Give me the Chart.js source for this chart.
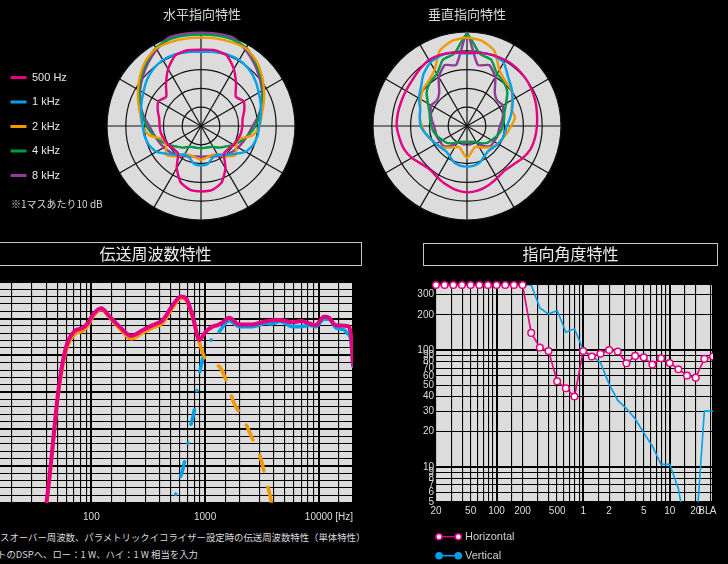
<!DOCTYPE html>
<html lang="ja"><head><meta charset="utf-8"><title>指向特性・伝送周波数特性</title>
<script src="https://cdn.jsdelivr.net/npm/chart.js"></script>
<style>
html,body{margin:0;padding:0;background:#000;}
body{width:728px;height:564px;overflow:hidden;position:relative;}
.pane{position:absolute;}
.note{position:absolute;margin:0;color:#d8d8d8;font-family:"Noto Sans CJK JP",sans-serif;white-space:nowrap;}
</style></head><body>
<div class="pane" style="left:-3px;top:0;width:330px;height:221px"><canvas id="polarH"></canvas></div>
<div class="pane" style="left:372px;top:0;width:190px;height:221px"><canvas id="polarV"></canvas></div>
<div class="pane" style="left:-51px;top:242px;width:413px;height:281px"><canvas id="resp"></canvas></div>
<div class="pane" style="left:415px;top:243px;width:311px;height:321px"><canvas id="angle"></canvas></div>
<p class="note" style="left:11px;top:198px;font-size:10px;line-height:12px">※1マスあたり10 dB</p>
<p class="note" style="left:0;top:531px;font-size:9.4px;line-height:12px">スオーバー周波数、パラメトリックイコライザー設定時の伝送周波数特性（単体特性）</p>
<p class="note" style="left:-3px;top:548px;font-size:9.4px;line-height:12px">トのDSPへ、ロー：1 W、ハイ：1 W 相当を入力</p>
<script>
// ---------- polar (directivity) data: dB, 0° = front, clockwise, 10° steps ----------
const polarAngles = [0,10,20,30,40,50,60,70,80,90,100,110,120,130,140,150,160,170,180,190,200,210,220,230,240,250,260,270,280,290,300,310,320,330,340,350];
const seriesNames = ['500 Hz','1 kHz','2 kHz','4 kHz','8 kHz'];

const hor500 = [-9.4,-9.0,-10,-15,-21,-25.8,-23.8,-25.5,-27.5,-28,-28.4,-29.2,-30,-31,-31,-24,-18,-15.5,-15.2,-15.6,-18.2,-24.2,-31,-31,-30,-29.2,-28.3,-28,-27.4,-25.5,-23.8,-25.8,-21,-15,-10,-9.1];
const hor1k  = [-10.6,-10,-9.4,-9.5,-10.5,-12.3,-14.5,-16.2,-17.8,-19,-19.5,-20.5,-22.6,-26.9,-29.8,-32.5,-32,-29.5,-29,-29.5,-32,-32.5,-29.8,-26.9,-22.6,-20.5,-19.5,-19,-17.8,-16.2,-14.5,-12.3,-10.5,-9.5,-9.4,-10];
const hor2k  = [-3,-2.8,-2.5,-2.3,-4.5,-7.8,-11.3,-14.5,-17.3,-18.8,-22,-29,-28.5,-26,-29,-32.5,-33.5,-33,-32,-33,-33.5,-32.5,-29,-26,-28.5,-29,-22,-18.8,-17.3,-14.5,-11.3,-7.8,-4.5,-2.3,-2.5,-2.8];
const hor4k  = [-1.4,-1.2,-1,-2,-5.2,-8.5,-12,-15.5,-18.5,-21,-24,-27,-30,-33,-35,-37.2,-38,-38.2,-38.2,-38.2,-38,-37.2,-35,-33,-30,-27,-24,-21,-18.5,-15.5,-12,-8.5,-5.2,-2,-1,-1.2];
const hor8k  = [-0.4,-0.2,0,-3,-6.2,-9.5,-12.5,-15.5,-19,-22.5,-24.5,-26,-27.2,-28.5,-30,-31.5,-32.8,-33.5,-33.7,-33.5,-32.8,-31.5,-30,-28.5,-27.2,-26,-24.5,-22.5,-19,-15.5,-12.5,-9.5,-6.2,-3,0,-0.2];

const ver500 = [-11.1,-10.5,-9.9,-9.5,-9.4,-9.8,-10.5,-11.3,-12.2,-12.8,-13.3,-14,-15.8,-18,-19,-18,-16.5,-15.2,-14.7,-15.5,-17,-18.5,-19.5,-18.5,-16,-14.3,-13.5,-12.6,-12.6,-12.7,-12.5,-12,-10.8,-9.5,-9.6,-10.3];
const ver1k  = [-11.5,-10.5,-9.9,-11,-16,-19,-22,-24.5,-26.8,-28.8,-29.5,-30,-31,-32,-32.5,-31.5,-29.5,-28.6,-28.4,-28.6,-29.5,-31.5,-32.5,-32,-31,-29.5,-27.5,-25.3,-24.5,-23.5,-20.5,-18,-14,-11,-10,-10.5];
const ver2k  = [-3,-4,-7.5,-15.5,-18.5,-19.5,-22,-24.7,-24,-26.5,-28.4,-30,-31,-32.5,-35,-37,-38,-36,-33,-36,-38,-37,-35,-32.5,-31,-29.5,-27.5,-26,-24.5,-23.5,-21.5,-19.5,-18.5,-15.5,-7.5,-4];
const ver4k  = [-1,-11,-12.5,-18,-19.5,-22,-26,-28.8,-30,-31,-32,-33.5,-35,-36,-38,-40,-41,-41.5,-41.5,-41.5,-41,-40,-38,-36,-35,-33.5,-32,-31,-30,-28.8,-26,-22,-19.5,-18,-12.5,-11];
const ver8k  = [-0.4,-17,-15.5,-20,-27,-29,-28,-29.5,-31,-32.5,-33,-33,-33.5,-33.5,-36,-39.5,-41,-40,-41.7,-40,-41,-39.5,-36,-33.5,-33.5,-33,-33,-32.5,-31,-29.5,-28,-29,-27,-20,-15.5,-17];

// ---------- frequency response data (Hz, dB) ----------
const freqTotal = [39.5,43,46,51,56,62,71,84,93,103,122,145,177,224,284,347,425,520,613,680,780,890,1010,1160,1290,1430,1630,2000,2600,3440,4550,5870,6940,8200,9400,11100,12300,14100,17800,19200,20000];
const dbTotal   = [38,47.5,56.6,70,78.3,83.7,86.6,87.5,88.7,91,92.8,90.5,87.8,85.3,86.9,88.2,89.6,93.7,96,95.5,90.5,84.2,86.4,87.8,88.2,89,90.2,88.4,88.4,89.3,89.6,89,89.3,88.7,88.2,90.5,90.2,88.2,88,85.5,77.5];
const freqLow   = [39.5,43,46,51,56,62,71,84,93,103,122,145,177,224,284,347,425,520,613,680,780,890,1030,1330,1560,1800,2160,2640,3020,3380,3700,4000];
const dbLow     = [37.5,47,56,69,77.3,82.8,85.7,86.6,88,90.5,92.5,90.2,87.3,84.5,86.2,87.5,88.8,93,95.5,95,90,83.5,78.5,77,72.6,67,62.9,57,53,47.2,42.3,37];
const freqHigh  = [520,557,627,690,740,805,850,920,1030,1330,1630,2000,2600,3440,3800,4550,5870,6940,8200,9400,11100,12300,14100,16700,17800,19200,20000];
const dbHigh    = [33,43.2,48.3,54,60.2,65.2,71,77.1,82.1,86.4,89.4,87.8,87.8,88.7,88.5,89.2,87.8,87.8,88.2,87.8,89.8,89.8,87.5,86.9,86,84,77];
const respTickLabels = [100, 1000, 10000];

// ---------- directivity angle data (degrees per 1/3-octave band) ----------
const bandLabels = ['20','25','31.5','40','50','63','80','100','125','160','200','250','315','400','500','630','800','1k','1.25k','1.6k','2k','2.5k','3.15k','4k','5k','6.3k','8k','10k','12.5k','16k','20k','BL','A'];
const bandTickText = {'20':'20','50':'50','100':'100','200':'200','500':'500','1k':'1','2k':'2','5k':'5','10k':'10','20k':'20','BL':'BL','A':'A'};
const horizontalDeg = [360,360,360,360,360,360,360,360,360,360,360,140,105,98,54,47,40,98,88,93,100,97,77,89,86.5,75,85,77.5,68.5,60.5,58,84,88];
const verticalDeg   = [360,360,360,360,360,360,360,360,360,360,360,360,229,203,218,142,152,100,89,78,51,37,31.6,25.8,19.5,15,10.5,10.5,6.5,2.5,2.5,30,30];
const angleTicks = [5,6,7,8,9,10,20,30,40,50,60,70,80,90,100,200,300];

// ---------- styling ----------
const PINK='#e4007f', BLUE='#00a0e9', ORANGE='#f39800', GREEN='#009944', PURPLE='#8f3b97';
const SERIES_COLORS = [PINK, BLUE, ORANGE, GREEN, PURPLE];
const PLOT_BG = '#dcdcdc';
Chart.defaults.font.family = '"Liberation Sans", Arial, sans-serif';
Chart.defaults.color = '#dddddd';
const JP = '"Noto Sans CJK JP", sans-serif';
const isDecade = v => Math.abs(Math.log10(v) - Math.round(Math.log10(v))) < 1e-9;

const plotBg = {
  id: 'plotBg',
  beforeDraw(chart, args, o) {
    if (!o || !o.color) return;
    const {ctx, chartArea: a} = chart;
    ctx.save(); ctx.fillStyle = o.color;
    ctx.fillRect(a.left, a.top, a.right - a.left, a.bottom - a.top);
    ctx.restore();
  }
};
const titleFrame = {
  id: 'titleFrame',
  afterDraw(chart, args, o) {
    if (!o || !o.height) return;
    const ctx = chart.ctx, t = chart.titleBlock;
    ctx.save(); ctx.strokeStyle = o.color; ctx.lineWidth = 1;
    ctx.strokeRect(o.inset + 0.5, t.top + 0.5, chart.width - 2 * o.inset - 1, o.height);
    ctx.restore();
  }
};
const markerLegend = {
  id: 'markerLegend',
  afterDraw(chart, args, o) {
    if (!o || !o.display) return;
    const ctx = chart.ctx;
    chart.data.datasets.forEach((ds, i) => {
      const y = o.y + i * o.gap, x0 = o.x, x1 = o.x + o.len;
      ctx.save();
      ctx.strokeStyle = ds.borderColor; ctx.lineWidth = ds.borderWidth;
      ctx.beginPath(); ctx.moveTo(x0, y); ctx.lineTo(x1, y); ctx.stroke();
      [x0, x1].forEach(x => {
        ctx.beginPath(); ctx.arc(x, y, o.r, 0, Math.PI * 2);
        ctx.fillStyle = ds.pointBackgroundColor; ctx.fill();
        ctx.lineWidth = 1.5; ctx.strokeStyle = ds.borderColor; ctx.stroke();
      });
      ctx.fillStyle = o.color; ctx.font = o.font; ctx.textBaseline = 'middle'; ctx.textAlign = 'left';
      ctx.fillText(ds.label, x1 + o.textGap, y);
      ctx.restore();
    });
  }
};

function polarConfig(title, seriesData, withLegend) {
  return {
    type: 'radar',
    data: {
      labels: polarAngles.map(a => a + '°'),
      datasets: seriesData.map((d, i) => ({
        label: seriesNames[i], data: d, borderColor: SERIES_COLORS[i], backgroundColor: SERIES_COLORS[i],
        borderWidth: 2.4, pointRadius: 0, fill: false, tension: 0.2, borderJoinStyle: 'round'
      }))
    },
    options: {
      responsive: true, maintainAspectRatio: false, animation: false,
      layout: { padding: 0 },
      plugins: {
        title: { display: true, text: title, fullSize: false, color: '#d8d8d8',
                 font: { family: JP, size: 13, weight: 'normal' }, padding: { top: 6.7, bottom: 9.7 } },
        legend: withLegend ? {
          display: true, position: 'left', fullSize: false, align: 'center',
          labels: {
            color: '#e6e6e6', font: { size: 11 }, boxWidth: 16, boxHeight: 3, padding: 13.5,
            generateLabels(chart) {
              return Chart.defaults.plugins.legend.labels.generateLabels(chart)
                .map(it => Object.assign(it, { fillStyle: it.strokeStyle, lineWidth: 0 }));
            }
          }
        } : { display: false },
        tooltip: { enabled: false }
      },
      scales: {
        r: {
          min: -50, max: 0, beginAtZero: false, backgroundColor: PLOT_BG,
          ticks: { display: false, stepSize: 10 },
          grid: { circular: true, color: '#111', lineWidth: 1.2 },
          angleLines: { display: true, color: '#111', lineWidth: c => (c.index % 3 === 0 ? 1.2 : 0) },
          pointLabels: { display: false }
        }
      }
    }
  };
}

new Chart(document.getElementById('polarH'), polarConfig('水平指向特性', [hor500, hor1k, hor2k, hor4k, hor8k], true));
new Chart(document.getElementById('polarV'), polarConfig('垂直指向特性', [ver500, ver1k, ver2k, ver4k, ver8k], false));

// ---------- frequency response ----------
const toXY = (xs, ys) => xs.map((x, i) => ({ x, y: ys[i] }));
new Chart(document.getElementById('resp'), {
  type: 'line',
  data: {
    datasets: [
      { label: 'Total', data: toXY(freqTotal, dbTotal), borderColor: PINK, borderWidth: 4, pointRadius: 0,
        cubicInterpolationMode: 'monotone', borderCapStyle: 'round', borderJoinStyle: 'round' },
      { label: 'Low', data: toXY(freqLow, dbLow), borderColor: ORANGE, borderWidth: 3.6, pointRadius: 0,
        cubicInterpolationMode: 'monotone', borderCapStyle: 'round',
        segment: { borderDash: c => (c.p0.parsed.x >= 880 ? [16, 17] : undefined) } },
      { label: 'High', data: toXY(freqHigh, dbHigh), borderColor: BLUE, borderWidth: 3.6, pointRadius: 0,
        cubicInterpolationMode: 'monotone', borderCapStyle: 'round',
        segment: { borderDash: c => (c.p0.parsed.x < 1300 ? [15, 19, 0.1, 19] : undefined) } }
    ]
  },
  options: {
    responsive: true, maintainAspectRatio: false, animation: false,
    layout: { padding: { left: 8, right: 8, top: 0, bottom: 0 } },
    plugins: {
      legend: { display: false }, tooltip: { enabled: false },
      title: { display: true, text: '伝送周波数特性', color: '#eeeeee',
               font: { family: JP, size: 16, weight: 'normal' }, padding: { top: 2.4, bottom: 18.1 } },
      plotBg: { color: PLOT_BG },
      titleFrame: { inset: 0, height: 23, color: '#c8c8c8' }
    },
    scales: {
      x: {
        type: 'logarithmic', min: 10, max: 20000, border: { display: false },
        grid: { color: '#000', lineWidth: c => (isDecade(c.tick.value) ? 2 : 1.1), drawTicks: false },
        ticks: { autoSkip: false, maxRotation: 0, padding: 9, color: '#dddddd', font: { size: 10 },
                 callback: v => (respTickLabels.includes(v) ? String(v) : '') },
        title: { display: true, text: '[Hz]', align: 'end', color: '#dddddd', font: { size: 10 },
                 padding: { top: -12, bottom: 0 } },
        afterFit: s => { s.height = 20.3; }
      },
      y: {
        min: 40, max: 100, border: { display: false },
        grid: { color: '#000', lineWidth: c => (c.tick.value % 10 === 0 ? 2 : 1.1), drawTicks: false },
        ticks: { display: false, stepSize: 2 },
        afterFit: s => { s.width = 20.7; }
      }
    }
  },
  plugins: [plotBg, titleFrame]
});

// ---------- directivity angle ----------
new Chart(document.getElementById('angle'), {
  type: 'line',
  data: {
    labels: bandLabels,
    datasets: [
      { label: 'Horizontal', data: horizontalDeg, borderColor: PINK, borderWidth: 1.6, tension: 0,
        pointRadius: 3.3, pointBorderWidth: 1.5, pointBackgroundColor: '#ffffff', pointBorderColor: PINK,
        clip: { left: 6, top: 6, right: 0, bottom: 0 } },
      { label: 'Vertical', data: verticalDeg, borderColor: BLUE, borderWidth: 1.6, tension: 0,
        pointRadius: 0, pointBackgroundColor: BLUE }
    ]
  },
  options: {
    responsive: true, maintainAspectRatio: false, animation: false,
    layout: { padding: { left: 0, right: 0, top: 0, bottom: 46 } },
    plugins: {
      legend: { display: false }, tooltip: { enabled: false },
      title: { display: true, text: '指向角度特性', color: '#eeeeee',
               font: { family: JP, size: 16, weight: 'normal' }, padding: { top: 1.7, bottom: 21.1 } },
      plotBg: { color: PLOT_BG },
      titleFrame: { inset: 8, height: 22, color: '#c8c8c8' },
      markerLegend: { display: true, x: 24, y: 293.7, gap: 19, len: 19.3, r: 3, textGap: 6.7,
                      font: '11px "Liberation Sans", Arial, sans-serif', color: '#d0d0d0' }
    },
    scales: {
      x: {
        type: 'category', grid: { display: false, drawTicks: false }, border: { display: false },
        ticks: { autoSkip: false, maxRotation: 0, padding: 3, color: '#dddddd', font: { size: 10 },
                 callback: (v, i) => bandTickText[bandLabels[i]] || '' },
        afterFit: s => { s.height = 16; }
      },
      xGrid: {
        type: 'logarithmic', position: 'bottom', min: 20, max: 20 * Math.pow(10, (bandLabels.length - 1) / 10),
        border: { display: false }, ticks: { display: false },
        grid: { color: '#000', lineWidth: c => (isDecade(c.tick.value) ? 2 : 1.1), drawTicks: false },
        afterFit: s => { s.height = 0; }
      },
      y: {
        type: 'logarithmic', min: 5, max: 360, border: { display: false },
        grid: { color: '#000', lineWidth: c => (isDecade(c.tick.value) ? 2 : 1.1), drawTicks: false },
        ticks: { autoSkip: false, padding: 2, color: '#dddddd', font: { size: 10 }, callback: v => String(v) },
        afterBuildTicks: s => { s.ticks = angleTicks.map(v => ({ value: v })); },
        afterFit: s => { s.width = 21; }
      },
      yPad: {
        type: 'linear', position: 'right', min: 0, max: 1, border: { display: false },
        grid: { display: false, drawTicks: false }, ticks: { display: false },
        afterFit: s => { s.width = 13; }
      }
    }
  },
  plugins: [plotBg, titleFrame, markerLegend]
});
</script>
</body></html>
